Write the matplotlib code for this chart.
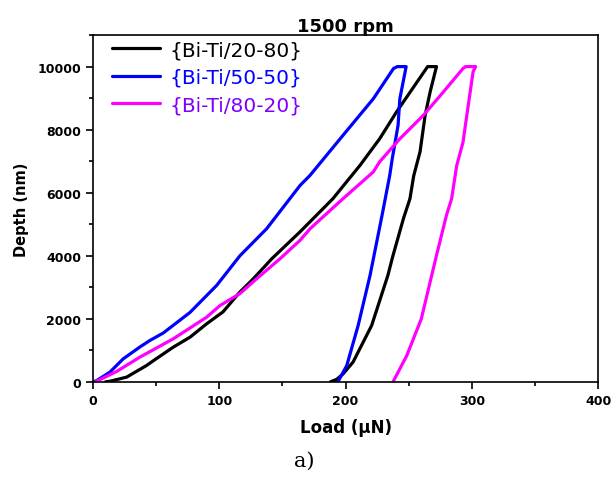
import matplotlib.pyplot as plt
from matplotlib.ticker import MultipleLocator

plt.rcParams['font.family'] = ['DejaVu Sans']

# Curvas carga-descarga (carga en uN, profundidad en nm)
load_2080 = [10, 13.5, 26.7, 42.5, 50, 63.6, 77, 90, 103, 116.4, 127, 141.5, 164, 190,
             211.5, 227, 240.5, 265, 272,
             267, 263, 259, 254, 251, 246, 237.6, 233.5, 220.7, 206, 198, 193, 188]
depth_2080 = [0, 20, 150, 520, 730, 1100, 1420, 1840, 2220, 2850, 3270, 3900, 4760, 5810,
              6870, 7710, 8570, 10000, 10000,
              9200, 8450, 7300, 6540, 5810, 5200, 4010, 3375, 1790, 630, 250, 80, 0]

load_5050 = [0, 3, 13.5, 24, 37, 45, 55.7, 76.8, 98, 116.4, 137.6, 164, 171.9, 198,
             222, 238, 241, 248,
             243, 241.6, 237, 235, 229, 219.4, 210, 201, 196, 194]
depth_5050 = [0, 40, 310, 730, 1100, 1310, 1550, 2200, 3060, 4000, 4860, 6230, 6550, 7820,
              8980, 9940, 10000, 10000,
              8980, 8140, 7080, 6550, 5300, 3375, 1790, 520, 150, 0]

load_8020 = [2, 18.8, 37, 63.6, 90, 100.6, 116.4, 129.6, 148, 164, 172, 198, 222, 227,
             243, 261.5, 275, 293, 295, 303,
             301, 296, 293, 288, 284, 280, 272, 260, 248.5, 237.6]
depth_8020 = [0, 330, 780, 1365, 2050, 2420, 2800, 3270, 3900, 4490, 4860, 5810, 6660, 6980,
              7710, 8450, 9080, 9940, 10000, 10000,
              9840, 8450, 7600, 6860, 5810, 5300, 4010, 2000, 835, 0]

labels = ['{Bi-Ti/20-80}', '{Bi-Ti/50-50}', '{Bi-Ti/80-20}']
line_colors = ['black', '#0000ff', '#ff00ff']
text_colors = ['black', '#0000ff', '#8000ff']

fig = plt.figure(figsize=(6.11, 4.81), dpi=100)
ax = fig.add_axes([0.152, 0.204, 0.827, 0.721])

series = [(load_2080, depth_2080), (load_5050, depth_5050), (load_8020, depth_8020)]
for (x, y), lab, col in zip(series, labels, line_colors):
    ax.plot(x, y, color=col, linewidth=2.3, label=lab,
            solid_joinstyle='round', solid_capstyle='round')

ax.set_xlim(0, 400)
ax.set_ylim(0, 11000)
ax.xaxis.set_major_locator(MultipleLocator(100))
ax.xaxis.set_minor_locator(MultipleLocator(50))
ax.yaxis.set_major_locator(MultipleLocator(2000))
ax.yaxis.set_minor_locator(MultipleLocator(1000))
ax.tick_params(which='both', direction='out', width=1.2, top=False, right=False)
ax.tick_params(which='major', length=5, labelsize=9)
ax.tick_params(which='minor', length=3)
for lbl in ax.get_xticklabels() + ax.get_yticklabels():
    lbl.set_fontweight('bold')
for sp in ax.spines.values():
    sp.set_linewidth(1.2)

ax.set_xlabel('Load (\u00b5N)', fontsize=12, fontweight='bold', labelpad=8)
ax.set_ylabel('Depth (nm)', fontsize=10.5, fontweight='bold', labelpad=6)
ax.set_title('1500 rpm', fontsize=13, fontweight='bold', pad=3)

leg = ax.legend(loc='upper left', frameon=False, fontsize=14.5, handlelength=2.4,
                handletextpad=0.45, labelspacing=0.42, borderaxespad=0.0,
                borderpad=0.0, bbox_to_anchor=(0.037, 0.985))
for txt, col in zip(leg.get_texts(), text_colors):
    txt.set_color(col)

fig.text(0.498, 0.04, 'a)', fontsize=15, ha='center', va='center',
         family='DejaVu Serif')

plt.savefig('out.png', dpi=100)
plt.close()
